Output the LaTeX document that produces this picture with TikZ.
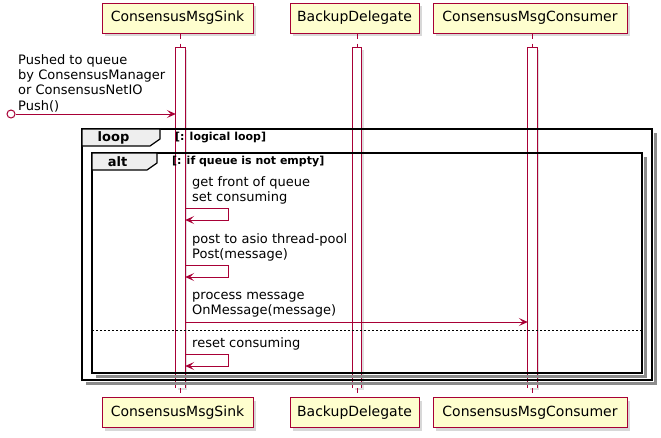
\documentclass[tikz,border=0pt]{standalone}
\usepackage{fontspec}
\setmainfont{DejaVu Sans}
\usetikzlibrary{arrows.meta,shadows,calc}
\definecolor{pred}{HTML}{A80036}
\definecolor{pfill}{HTML}{FEFECE}
\definecolor{tabfill}{HTML}{EEEEEE}
\begin{document}
\begin{tikzpicture}[x=1pt,y=-1pt,
  part/.style={draw=pred, fill=pfill, line width=1pt, minimum height=30pt, inner sep=0pt,
    font=\fontsize{14}{16}\selectfont, text=black,
    drop shadow={shadow xshift=3pt, shadow yshift=-3pt, fill=black!30}},
  actbar/.style={fill=white, minimum width=9pt, inner sep=0pt,
    drop shadow={shadow xshift=2pt, shadow yshift=-2pt, fill=black!25}},
  baredge/.style={draw=pred, line width=1pt},
  life/.style={draw=pred, line width=1pt, dash pattern=on 5pt off 5pt},
  msg/.style={draw=pred, line width=1pt, -{Stealth[length=9pt,width=8pt,inset=4pt]}},
  msgtxt/.style={font=\fontsize{13}{15}\selectfont, align=left, inner sep=0pt, anchor=west},
  frame/.style={draw=black, line width=1.5pt},
  fshadow/.style={draw=black!45, line width=3pt},
  tabshape/.style={draw=black, line width=1.2pt, fill=tabfill},
  kw/.style={font=\bfseries\fontsize{13}{15}\selectfont, inner sep=0pt},
  guard/.style={font=\bfseries\fontsize{11}{13}\selectfont, inner sep=0pt, anchor=west}
]
\useasboundingbox (0,0) rectangle (661,437);

% participants (top and bottom)
\node[part, minimum width=151pt] (sinkT) at (177.5,18) {ConsensusMsgSink};
\node[part, minimum width=129pt] (bkT) at (354.5,18) {BackupDelegate};
\node[part, minimum width=194pt] (conT) at (530,18) {ConsensusMsgConsumer};
\node[part, minimum width=151pt] (sinkB) at (177.5,412.5) {ConsensusMsgSink};
\node[part, minimum width=129pt] (bkB) at (354.5,412.5) {BackupDelegate};
\node[part, minimum width=194pt] (conB) at (530,412.5) {ConsensusMsgConsumer};

% activation bars (open at the bottom)
\node[actbar, minimum height=340pt] (b1) at (180.5,218) {};
\node[actbar, minimum height=340pt] (b2) at (357,218) {};
\node[actbar, minimum height=340pt] (b3) at (532.5,218) {};
\draw[baredge] (b1.south west) -- (b1.north west) -- (b1.north east) -- (b1.south east);
\draw[baredge] (b2.south west) -- (b2.north west) -- (b2.north east) -- (b2.south east);
\draw[baredge] (b3.south west) -- (b3.north west) -- (b3.north east) -- (b3.south east);

% lifeline stubs
\draw[life] (b1.north |- sinkT.south) -- (b1.north);
\draw[life] (b2.north |- bkT.south) -- (b2.north);
\draw[life] (b3.north |- conT.south) -- (b3.north);
\draw[life] (b1.south) -- (b1.south |- sinkB.north);
\draw[life] (b2.south) -- (b2.south |- bkB.north);
\draw[life] (b3.south) -- (b3.south |- conB.north);

% frames
\coordinate (loopNW) at (82,129);
\coordinate (loopSE) at (652,380);
\coordinate (altNW) at (92,153);
\coordinate (altSE) at (642,373);
\draw[fshadow] (655.5,133) -- (655.5,383.5) -- (86,383.5);
\draw[fshadow] (645.5,157) -- (645.5,376.5) -- (96,376.5);
\draw[frame] (loopNW) rectangle (loopSE);
\draw[frame] (altNW) rectangle (altSE);
\draw[tabshape] (82,129) -- (160,129) -- (160,139) -- (150,146) -- (82,146) -- cycle;
\draw[tabshape] (92,153) -- (157,153) -- (157,163) -- (147,170) -- (92,170) -- cycle;
\node[kw] (loopkw) at (113.5,138) {loop};
\node[guard] (loopg) at (175,138) {[: logical loop]};
\node[kw] (altkw) at (117.5,162) {alt};
\node[guard] (altg) at (172,162) {[: if queue is not empty]};
\draw[black, line width=0.8pt, dash pattern=on 2pt off 2pt] (altNW |- 0,330) -- (altSE |- 0,330);

% incoming message
\node[circle, draw=pred, fill=white, line width=1pt, minimum size=8pt, inner sep=0pt] (src) at (11,114) {};
\draw[msg] (src) -- (b1.west |- src);
\node[msgtxt, font=\fontsize{13}{15.3}\selectfont] (t0) at (18,83) {Pushed to queue\\by ConsensusManager\\or ConsensusNetIO\\Push()};

% self messages
\draw[msg] (b1.east |- 0,208) -- (228,208) -- (228,220) -- (b1.east |- 0,220);
\node[msgtxt] (t1) at (192,190) {get front of queue\\set consuming};
\draw[msg] (b1.east |- 0,265) -- (228,265) -- (228,277) -- (b1.east |- 0,277);
\node[msgtxt] (t2) at (192,247) {post to asio thread-pool\\Post(message)};
\draw[msg] (b1.east |- 0,322) -- (b3.west |- 0,322);
\node[msgtxt] (t3) at (192,305) {process message\\OnMessage(message)};
\draw[msg] (b1.east |- 0,354) -- (228,354) -- (228,366) -- (b1.east |- 0,366);
\node[msgtxt] (t4) at (192,344) {reset consuming};
\end{tikzpicture}
\end{document}
